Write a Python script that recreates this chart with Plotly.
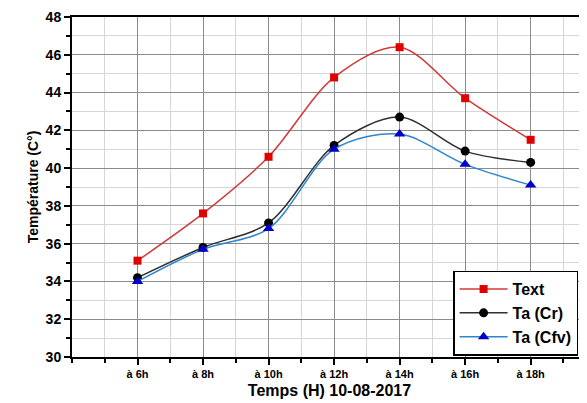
import plotly.graph_objects as go

hours = [6, 8, 10, 12, 14, 16, 18]
tick_labels = ["à 6h", "à 8h", "à 10h", "à 12h", "à 14h", "à 16h", "à 18h"]
text_vals = [35.1, 37.6, 40.6, 44.8, 46.4, 43.7, 41.5]
cr_vals = [34.2, 35.8, 37.1, 41.2, 42.7, 40.9, 40.3]
cfv_vals = [34.0, 35.7, 36.8, 41.0, 41.8, 40.2, 39.1]

FONT = "Liberation Sans, Arial, sans-serif"

fig = go.Figure()
fig.add_trace(go.Scatter(x=hours, y=text_vals, name="Text", mode="lines+markers",
                         line=dict(color="#d03a3a", width=1.5, shape="spline", smoothing=0.9),
                         marker=dict(symbol="square", size=8, color="#e00000")))
fig.add_trace(go.Scatter(x=hours, y=cr_vals, name="Ta (Cr)", mode="lines+markers",
                         line=dict(color="#303030", width=1.5, shape="spline", smoothing=0.9),
                         marker=dict(symbol="circle", size=9, color="#000000")))
fig.add_trace(go.Scatter(x=hours, y=cfv_vals, name="Ta (Cfv)", mode="lines+markers",
                         line=dict(color="#2a86d0", width=1.5, shape="spline", smoothing=0.9),
                         marker=dict(symbol="triangle-up", size=10, color="#0000c8")))

fig.update_layout(
    width=579, height=395,
    margin=dict(l=64, r=0, t=9, b=46),
    paper_bgcolor="white", plot_bgcolor="white",
    font=dict(family=FONT, color="black"),
    showlegend=True,
    legend=dict(x=0.74, y=0.004, xanchor="left", yanchor="bottom",
                bgcolor="white", bordercolor="black", borderwidth=1.5,
                font=dict(size=16, weight="bold", family=FONT),
                itemwidth=48, tracegroupgap=0),
    xaxis=dict(
        range=[4, 19.72],
        tickmode="array", tickvals=hours, ticktext=tick_labels,
        tickfont=dict(size=11, weight="bold"),
        ticks="outside", ticklen=6, tickwidth=1.5, tickcolor="black",
        showline=True, linecolor="black", linewidth=2, mirror=True,
        showgrid=True, gridcolor="#8c8c8c", gridwidth=1,
        minor=dict(tickmode="linear", tick0=0, dtick=1, showgrid=True,
                   gridcolor="#d6d6d6", gridwidth=1, ticks="outside", ticklen=4,
                   tickcolor="black"),
        zeroline=False,
        title=dict(text="Temps (H) 10-08-2017", font=dict(size=16, weight="bold"), standoff=6),
    ),
    yaxis=dict(
        range=[30, 48], tickmode="linear", tick0=30, dtick=2,
        tickfont=dict(size=14, weight="bold"),
        ticklabeloverflow="allow",
        ticks="outside", ticklen=6, tickwidth=1.5, tickcolor="black",
        showline=True, linecolor="black", linewidth=2,
        showgrid=True, gridcolor="#8c8c8c", gridwidth=1,
        minor=dict(tickmode="linear", tick0=30, dtick=1, showgrid=True,
                   gridcolor="#d6d6d6", gridwidth=1, ticks="outside", ticklen=4,
                   tickcolor="black"),
        zeroline=False,
        title=dict(text="Température (C°)", font=dict(size=14, weight="bold"), standoff=4),
    ),
)

fig.write_html("out.html")
